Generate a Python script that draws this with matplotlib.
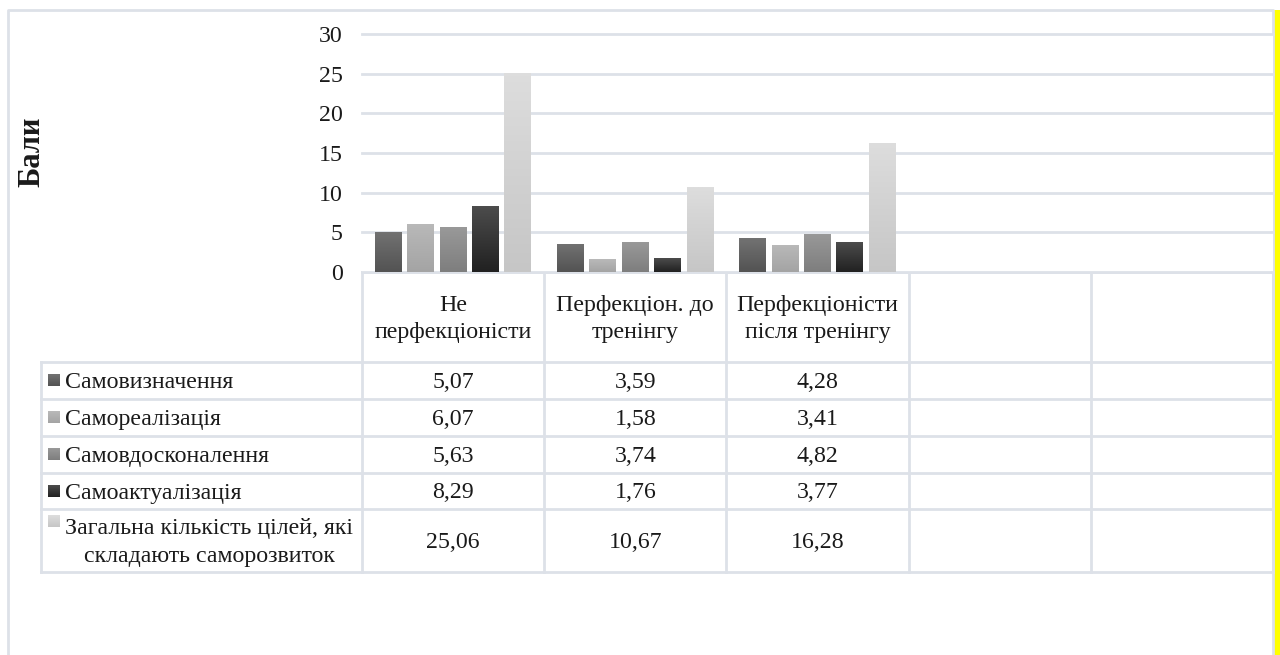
import numpy as np
import matplotlib
matplotlib.use('Agg')
import matplotlib.pyplot as plt
from matplotlib.patches import Rectangle

# data
categories = ['Не\nперфекціоністи', 'Перфекціон. до\nтренінгу', 'Перфекціоністи\nпісля тренінгу', '', '']
series_names = ['Самовизначення', 'Самореалізація', 'Самовдосконалення', 'Самоактуалізація',
                'Загальна кількість цілей, які\nскладають саморозвиток']
samovyznachennia = [5.07, 3.59, 4.28]
samorealizatsiia = [6.07, 1.58, 3.41]
samovdoskonalennia = [5.63, 3.74, 4.82]
samoaktualizatsiia = [8.29, 1.76, 3.77]
zahalna = [25.06, 10.67, 16.28]
series = [samovyznachennia, samorealizatsiia, samovdoskonalennia, samoaktualizatsiia, zahalna]
y_ticks = [0, 5, 10, 15, 20, 25, 30]

# gradient colours (top, bottom) per series
grads = [('#727272', '#535353'), ('#b9b9b9', '#a4a4a4'), ('#999999', '#7e7e7e'),
         ('#4c4c4c', '#212121'), ('#dddddd', '#c6c6c6')]

plt.rcParams['font.family'] = ['Liberation Serif', 'DejaVu Serif']
W, H = 1280, 655
fig = plt.figure(figsize=(W / 100, H / 100), dpi=100)

def fx(px):
    return px / W

def fy(py):
    return 1 - py / H

grid_c = '#dde1e8'
txt_c = '#1a1a1a'
fs = 17.2
lsp = 1.42

# plot area
x0, x1, ytop, ybot = 362, 1273, 34, 272
ax = fig.add_axes([fx(x0), fy(ybot), fx(x1) - fx(x0), fy(ytop) - fy(ybot)])
n_cat = len(categories)
for s in ax.spines.values():
    s.set_visible(False)
ax.set_xticks([])
ax.set_yticks(y_ticks)
ax.set_yticklabels([str(t) for t in y_ticks], fontsize=fs, color=txt_c)
ax.tick_params(axis='y', length=0, pad=14)
for t in y_ticks:
    ax.axhline(t, color=grid_c, lw=2, zorder=0, clip_on=False)

bw = 0.148
step = 0.178
grad_img = np.linspace(0, 1, 64).reshape(-1, 1)
for i, vals in enumerate(series):
    xs = np.arange(len(vals)) + (i - 2) * step
    bars = ax.bar(xs, vals, width=bw, color=grads[i][1], zorder=2)
    cmap = matplotlib.colors.LinearSegmentedColormap.from_list('g%d' % i, [grads[i][1], grads[i][0]])
    for b in bars:
        bx, by = b.get_x(), b.get_y()
        im = ax.imshow(grad_img, cmap=cmap, aspect='auto', origin='lower',
                       extent=[bx, bx + b.get_width(), by, by + b.get_height()], zorder=3)
        im.set_clip_path(b)
ax.set_xlim(-0.5, n_cat - 0.5)
ax.set_ylim(0, 30)

# overlay in pixel coordinates for frame and data table
ov = fig.add_axes([0, 0, 1, 1], zorder=-1)
ov.set_xlim(0, W)
ov.set_ylim(H, 0)
ov.axis('off')
ov.patch.set_alpha(0)

# outer frame and yellow strip
ov.plot([8, 8, 1273, 1273], [H + 5, 10, 10, H + 5], color=grid_c, lw=2)
ov.add_patch(Rectangle((1274, 10), 8, H, color='#ffff00', lw=0))

# table geometry
col_edges = [x0 + k * (x1 - x0) / n_cat for k in range(n_cat + 1)]
tab_left = 41
row_edges = [272, 362, 399, 436, 473, 509, 572]

# horizontal lines
ov.plot([x0, x1], [row_edges[0], row_edges[0]], color=grid_c, lw=2)
for r in row_edges[1:]:
    ov.plot([tab_left, x1], [r, r], color=grid_c, lw=2)
# vertical lines
for c in col_edges:
    ov.plot([c, c], [row_edges[0], row_edges[-1]], color=grid_c, lw=2)
ov.plot([tab_left, tab_left], [row_edges[1], row_edges[-1]], color=grid_c, lw=2)

# header
for k, cat in enumerate(categories):
    cx = (col_edges[k] + col_edges[k + 1]) / 2
    ov.text(cx, (row_edges[0] + row_edges[1]) / 2 + 2, cat, ha='center', va='center',
            fontsize=fs, color=txt_c, linespacing=lsp)

# rows
for i, (name, vals) in enumerate(zip(series_names, series)):
    cy = (row_edges[i + 1] + row_edges[i + 2]) / 2
    msize = 12
    if '\n' in name:
        my = cy - 19
    else:
        my = cy
    cmap = matplotlib.colors.LinearSegmentedColormap.from_list('m%d' % i, [grads[i][1], grads[i][0]])
    ov.imshow(grad_img, cmap=cmap, aspect='auto', origin='lower',
              extent=[48, 48 + msize, my + msize / 2, my - msize / 2])
    ov.text(65, cy + 2, name, ha='left', va='center', fontsize=fs, color=txt_c,
            multialignment='center', linespacing=lsp)
    for k, v in enumerate(vals):
        cx = (col_edges[k] + col_edges[k + 1]) / 2
        ov.text(cx, cy + 2, ('%.2f' % v).replace('.', ','), ha='center', va='center',
                fontsize=fs, color=txt_c)
ov.set_xlim(0, W)
ov.set_ylim(H, 0)

# axis title
fig.text(fx(32), fy(152), 'Бали', rotation=90, ha='center', va='center',
         fontsize=22, fontweight='bold', color=txt_c)

fig.savefig('out.png', dpi=100)
